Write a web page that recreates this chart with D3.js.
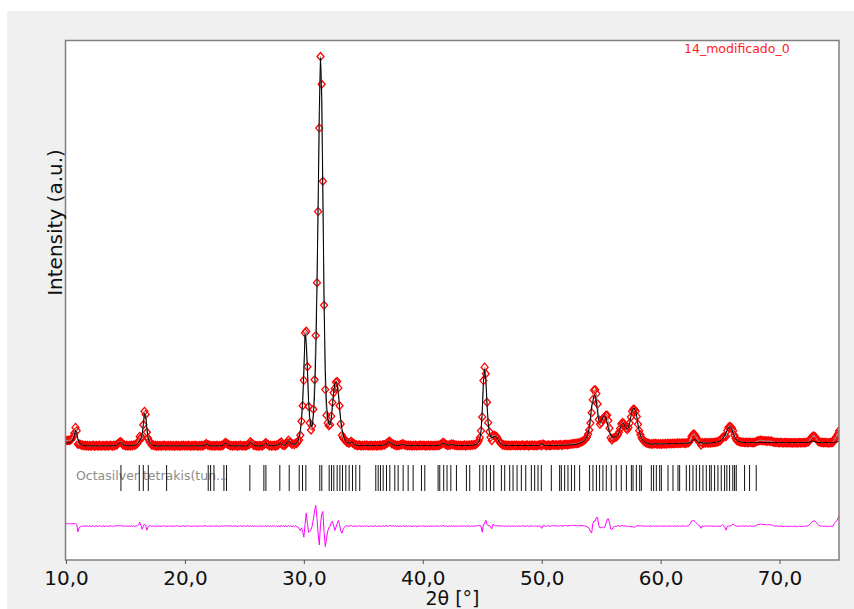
<!DOCTYPE html>
<html>
<head>
<meta charset="utf-8">
<script src="https://cdn.jsdelivr.net/npm/d3@7"></script>
<style>
  html, body { margin: 0; padding: 0; background: #ffffff; }
  svg { display: block; font-family: "DejaVu Sans", Verdana, sans-serif; }
</style>
</head>
<body>
<svg id="chart" width="854" height="609"></svg>
<script>
// Step scan: 2θ from 10.0° to 75.0° in 0.1° steps
const scanStart = 10.0;
const scanStep = 0.1;

// Observed intensity (counts), one row per degree
const yObs = [
  180,178,183,180,188,198,222,262,330,290,
  135,138,133,124,126,119,124,115,121,114,
  122,113,120,124,111,119,121,113,125,116,
  114,122,119,112,123,117,115,124,120,113,
  124,118,127,131,146,160,166,150,128,127,
  117,124,115,121,116,126,119,128,123,136,
  145,170,226,210,210,360,515,480,274,205,
  172,150,128,130,117,124,113,121,116,122,
  112,121,118,124,113,119,122,114,120,116,
  121,113,118,122,115,120,112,121,117,123,
  114,120,116,123,118,112,121,115,122,117,
  120,113,121,116,123,115,124,133,143,128,
  128,117,122,114,121,116,119,123,114,120,
  116,125,122,142,156,148,136,130,118,122,
  114,121,117,123,112,120,118,124,115,119,
  122,115,121,126,132,166,149,140,122,125,
  115,121,113,122,118,114,130,136,155,137,
  134,116,124,112,122,125,113,128,120,140,
  150,162,128,130,120,142,152,183,160,156,
  134,140,132,148,145,165,185,240,400,580,
  873,1420,1440,1030,571,380,300,345,540,880,
  1389,2000,2820,3784,4610,4290,3170,1740,766,470,
  380,350,362,460,618,730,780,850,860,786,
  580,370,239,210,190,178,162,155,146,162,
  168,150,144,126,130,118,124,126,116,123,
  117,124,119,126,114,121,118,125,116,122,
  125,116,122,119,127,118,126,131,128,140,
  148,162,170,158,142,140,126,130,118,125,
  120,130,128,142,136,124,127,118,123,117,
  124,116,122,118,125,114,121,119,126,117,
  121,125,115,122,118,124,116,123,119,121,
  117,124,119,126,122,134,138,158,150,132,
  130,120,128,125,138,132,135,121,126,118,
  124,117,125,119,122,127,116,124,121,128,
  120,129,124,133,128,140,150,172,210,290,
  451,870,1025,949,620,385,280,215,180,235,
  240,230,225,200,175,152,144,128,131,120,
  127,118,125,122,117,126,120,124,118,126,
  119,125,117,123,128,118,124,121,127,116,
  124,120,127,118,125,122,119,126,126,130,
  118,140,130,126,118,124,127,119,125,130,
  128,124,131,120,127,126,132,122,129,133,
  130,135,128,137,134,140,138,142,146,141,
  150,148,156,160,166,175,185,195,215,250,
  300,380,500,650,760,765,720,600,420,365,
  385,425,440,450,470,470,410,320,210,185,
  205,212,216,223,245,275,318,368,386,375,
  350,318,305,330,380,450,515,540,536,515,
  455,365,292,245,208,188,170,162,150,150,
  145,138,142,135,145,140,146,135,141,137,
  141,136,143,139,145,137,147,140,146,141,
  146,141,148,143,150,145,149,144,152,146,
  150,145,152,150,160,185,225,245,254,240,
  215,190,170,158,128,155,148,153,150,156,
  148,155,150,156,152,158,155,163,160,172,
  176,190,215,220,225,224,295,330,340,336,
  320,290,240,205,180,175,164,165,158,160,
  158,153,160,156,154,160,157,152,158,155,
  162,170,175,178,182,180,177,175,176,170,
  172,175,168,173,165,160,158,155,160,153,
  152,158,154,150,157,153,155,150,156,152,
  154,150,156,151,155,149,153,157,150,155,
  152,156,153,158,162,175,195,215,228,230,
  220,200,180,165,160,155,158,153,156,152,
  155,150,154,157,153,158,190,205,225,250,
  290
];

// Calculated (refined) profile, same steps
const yCalc = [
  150,150,151,153,158,170,192,235,295,270,
  200,160,138,128,123,120,119,118,118,118,
  118,117,118,118,117,117,118,118,117,117,
  117,117,118,118,117,117,118,118,118,119,
  119,120,122,127,138,155,160,145,130,123,
  120,119,118,118,119,120,121,123,126,131,
  140,155,180,200,245,360,490,470,320,215,
  168,145,132,125,121,119,118,118,117,117,
  117,117,117,118,118,118,117,117,117,117,
  117,117,116,116,116,117,117,117,117,117,
  117,117,117,117,117,117,117,117,117,117,
  117,117,117,117,117,118,120,128,140,132,
  124,120,118,117,117,117,117,117,118,118,
  119,120,124,138,152,145,132,124,120,118,
  117,117,117,117,117,117,117,117,117,117,
  117,117,118,122,135,160,152,135,125,120,
  118,117,117,117,117,118,125,140,150,140,
  128,121,119,118,118,119,120,122,126,135,
  160,150,132,125,125,135,160,175,165,150,
  140,137,138,142,152,172,215,290,420,640,
  1000,1400,1290,1000,640,440,340,345,460,700,
  1150,1900,2900,4000,4590,4150,3000,1800,1000,620,
  440,370,362,420,560,720,830,860,830,720,
  560,420,320,250,205,175,158,150,150,155,
  162,155,140,130,125,122,121,120,120,120,
  120,120,120,120,120,120,120,120,120,120,
  120,120,120,120,121,122,124,127,131,136,
  142,165,162,152,142,134,128,124,122,122,
  123,126,132,138,133,127,123,121,120,120,
  120,120,120,120,120,120,120,120,120,120,
  120,120,120,120,120,120,120,120,120,120,
  120,120,121,122,125,130,140,150,145,135,
  127,124,125,128,133,135,130,125,122,121,
  121,121,120,120,120,121,121,121,122,123,
  123,124,125,127,130,135,145,165,200,290,
  520,850,1000,880,600,380,270,225,210,215,
  225,228,220,195,170,150,138,130,126,124,
  122,122,121,121,121,121,121,121,121,121,
  121,121,121,121,121,121,121,121,121,121,
  121,121,121,121,121,121,121,121,125,135,
  143,135,126,122,121,121,121,121,122,122,
  122,122,122,123,123,123,124,124,125,125,
  126,126,127,128,129,130,131,133,135,137,
  140,143,147,152,160,170,180,195,220,260,
  330,440,580,620,700,705,620,500,410,385,
  400,435,460,462,440,390,325,275,242,226,
  219,216,218,225,240,270,320,362,378,372,
  345,318,310,328,385,455,520,548,550,520,
  450,360,290,240,205,185,170,160,152,147,
  143,140,138,137,139,143,141,138,137,138,
  138,139,140,140,141,141,142,142,143,143,
  143,144,144,145,145,146,146,146,147,147,
  147,147,148,148,150,155,165,180,190,188,
  178,168,160,155,152,151,150,150,150,150,
  150,150,151,152,154,156,158,161,165,170,
  177,186,198,215,240,270,300,328,338,332,
  305,265,228,200,182,172,166,162,159,157,
  156,155,155,155,155,155,155,155,155,155,
  155,155,155,156,157,157,156,155,155,155,
  155,155,155,155,155,155,155,155,155,155,
  155,155,155,155,155,155,155,155,155,155,
  155,155,155,155,155,155,155,155,155,155,
  155,155,155,156,157,160,165,170,172,168,
  163,159,157,156,155,155,155,155,155,155,
  155,155,155,156,156,157,158,160,162,165,
  168
];

// Bragg reflection positions of the phase (2θ, °)
const reflections = [
  14.62, 16.16, 16.50, 16.92, 18.46, 21.96, 22.16, 22.44, 23.28, 23.50,
  25.46, 26.64, 26.81, 27.98, 28.77, 29.61, 29.89, 30.17, 31.34, 31.51,
  32.13, 32.33, 32.52, 32.80, 33.03, 33.25, 33.53, 33.81, 34.09, 34.37,
  34.70, 36.05, 36.25, 36.44, 36.67, 36.95, 37.23, 37.65, 37.93, 38.35,
  38.77, 39.19, 39.89, 40.17, 41.29, 41.43, 41.76, 42.04, 42.36, 42.83,
  43.67, 43.95, 44.79, 45.07, 45.35, 45.69, 45.97, 46.61, 46.89, 47.31,
  47.59, 47.93, 48.29, 48.66, 49.13, 49.41, 49.69, 49.97, 50.81, 51.51,
  51.65, 51.93, 52.21, 52.50, 52.77, 53.19, 54.03, 54.31, 54.60, 54.87,
  55.15, 55.43, 55.85, 56.27, 56.69, 57.12, 57.54, 57.68, 57.96, 58.24,
  58.38, 59.22, 59.41, 59.64, 59.92, 60.06, 60.62, 61.04, 61.46, 61.60,
  62.16, 62.44, 62.72, 63.00, 63.28, 63.56, 63.84, 64.12, 64.26, 64.54,
  64.82, 65.10, 65.38, 65.57, 65.80, 66.07, 66.22, 66.36, 67.06, 67.48,
  68.04
];

const xTickValues = [10, 20, 30, 40, 50, 60, 70];
const sampleName = "14_modificado_0";
const phaseName = "Octasilver tetrakis(tun...";
const xTitle = "2θ [°]";
const yTitle = "Intensity (a.u.)";

// Offset that places the difference curve below the pattern
const diffOffset = -810;

const svg = d3.select("#chart");
const W = 854, H = 609;
const plot = { left: 66, right: 839, top: 40, bottom: 560 };

const twoTheta = yObs.map((_, i) => +(scanStart + i * scanStep).toFixed(2));
const points = twoTheta.map((t, i) => ({ t, obs: yObs[i], calc: yCalc[i], diff: yObs[i] - yCalc[i] }));

const x = d3.scaleLinear().domain([10, 75]).range([plot.left, plot.right]);
const y = d3.scaleLinear().domain([-1200, 4800]).range([plot.bottom, plot.top]);

const comma = d3.formatLocale({ decimal: ",", thousands: ".", grouping: [3], currency: ["", ""] }).format(".1f");

// window background
svg.append("rect").attr("x", 0).attr("y", 0).attr("width", W).attr("height", H).attr("fill", "#ffffff");
svg.append("rect").attr("x", 7).attr("y", 11).attr("width", W - 7).attr("height", H - 11).attr("fill", "#f0f0f0");

// plot area
svg.append("rect")
  .attr("x", plot.left).attr("y", plot.top)
  .attr("width", plot.right - plot.left).attr("height", plot.bottom - plot.top)
  .attr("fill", "#ffffff");

const clip = svg.append("defs").append("clipPath").attr("id", "plotClip");
clip.append("rect")
  .attr("x", plot.left).attr("y", plot.top)
  .attr("width", plot.right - plot.left).attr("height", plot.bottom - plot.top);

const g = svg.append("g").attr("clip-path", "url(#plotClip)");

// difference curve
g.append("path")
  .datum(points)
  .attr("fill", "none")
  .attr("stroke", "#ff00ff")
  .attr("stroke-width", 1)
  .attr("d", d3.line().x(d => x(d.t)).y(d => y(d.diff + diffOffset)));

// phase name and reflection markers
g.append("text")
  .attr("x", 76).attr("y", 480)
  .attr("font-size", 12.5)
  .attr("fill", "#8c8c8c")
  .text(phaseName);

g.append("g").selectAll("line")
  .data(reflections)
  .join("line")
  .attr("x1", d => x(d)).attr("x2", d => x(d))
  .attr("y1", 465).attr("y2", 491)
  .attr("stroke", "#111111")
  .attr("stroke-width", 1);

// observed points
const diamond = "M0,-4L3.5,0L0,4L-3.5,0Z";
g.append("g").selectAll("path")
  .data(points)
  .join("path")
  .attr("d", diamond)
  .attr("transform", d => `translate(${x(d.t)},${y(d.obs)})`)
  .attr("fill", "none")
  .attr("stroke", "#ff0000")
  .attr("stroke-width", 1.3);

// observed trace
g.append("path")
  .datum(points)
  .attr("fill", "none")
  .attr("stroke", "#9a9a9a")
  .attr("stroke-width", 1)
  .attr("d", d3.line().x(d => x(d.t)).y(d => y(d.obs)));

// calculated profile
g.append("path")
  .datum(points)
  .attr("fill", "none")
  .attr("stroke", "#000000")
  .attr("stroke-width", 1)
  .attr("d", d3.line().x(d => x(d.t)).y(d => y(d.calc)));

// frame
svg.append("rect")
  .attr("x", plot.left - 0.5).attr("y", plot.top + 0.5)
  .attr("width", plot.right - plot.left + 0.5).attr("height", plot.bottom - plot.top - 0.5)
  .attr("fill", "none")
  .attr("stroke", "#808080")
  .attr("stroke-width", 1.5);

// x axis
const xAxis = svg.append("g")
  .attr("transform", `translate(0,${plot.bottom})`)
  .call(d3.axisBottom(x).tickValues(xTickValues).tickSize(4).tickPadding(7).tickFormat(comma));
xAxis.select(".domain").remove();
xAxis.selectAll(".tick line").attr("stroke", "#555555");
xAxis.selectAll(".tick text")
  .attr("font-size", 20)
  .attr("font-family", "DejaVu Sans, Verdana, sans-serif")
  .attr("fill", "#111111");

// axis titles
svg.append("text")
  .attr("x", (plot.left + plot.right) / 2).attr("y", 605)
  .attr("text-anchor", "middle")
  .attr("font-size", 19)
  .attr("fill", "#111111")
  .text(xTitle);

svg.append("text")
  .attr("transform", "translate(62,222.5) rotate(-90)")
  .attr("text-anchor", "middle")
  .attr("font-size", 20)
  .attr("fill", "#111111")
  .text(yTitle);

// sample label
svg.append("text")
  .attr("x", 684).attr("y", 52.5)
  .attr("font-size", 12.5)
  .attr("fill", "#ff1a1a")
  .text(sampleName);
</script>
</body>
</html>
